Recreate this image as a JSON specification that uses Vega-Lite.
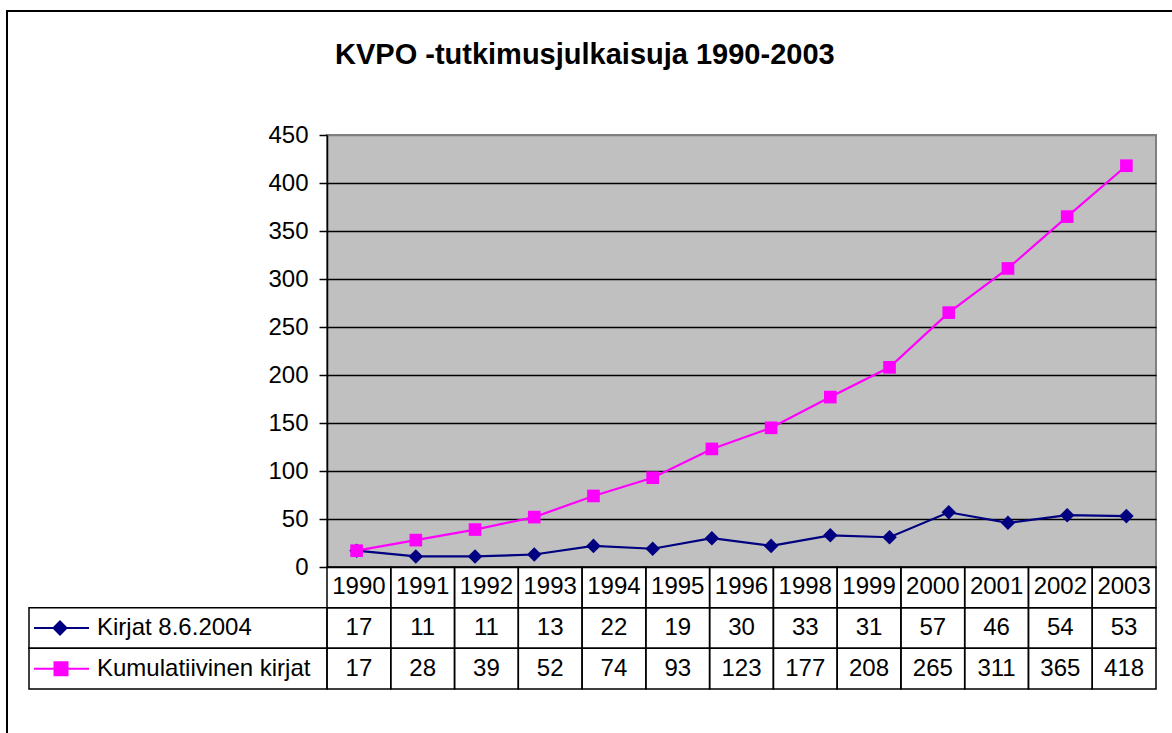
{
  "$schema": "https://vega.github.io/schema/vega-lite/v6.json",
  "autosize": {"type": "none"},
  "width": 829,
  "height": 432,
  "padding": {"left": 327, "top": 135, "right": 16, "bottom": 166},
  "background": "white",
  "title": {
    "text": "KVPO -tutkimusjulkaisuja 1990-2003",
    "anchor": "start",
    "frame": "group",
    "dx": 8,
    "offset": -83,
    "baseline": "alphabetic",
    "font": "Liberation Sans",
    "fontSize": 29,
    "fontWeight": "bold",
    "color": "black"
  },
  "config": {
    "font": "Liberation Sans",
    "view": {"fill": "#C0C0C0", "stroke": "#808080", "strokeWidth": 2}
  },
  "datasets": {
    "plot": [
      {"year": "1990", "series": "Kirjat 8.6.2004", "value": 17},
      {"year": "1991", "series": "Kirjat 8.6.2004", "value": 11},
      {"year": "1992", "series": "Kirjat 8.6.2004", "value": 11},
      {"year": "1993", "series": "Kirjat 8.6.2004", "value": 13},
      {"year": "1994", "series": "Kirjat 8.6.2004", "value": 22},
      {"year": "1995", "series": "Kirjat 8.6.2004", "value": 19},
      {"year": "1996", "series": "Kirjat 8.6.2004", "value": 30},
      {"year": "1997", "series": "Kirjat 8.6.2004", "value": 22},
      {"year": "1998", "series": "Kirjat 8.6.2004", "value": 33},
      {"year": "1999", "series": "Kirjat 8.6.2004", "value": 31},
      {"year": "2000", "series": "Kirjat 8.6.2004", "value": 57},
      {"year": "2001", "series": "Kirjat 8.6.2004", "value": 46},
      {"year": "2002", "series": "Kirjat 8.6.2004", "value": 54},
      {"year": "2003", "series": "Kirjat 8.6.2004", "value": 53},
      {"year": "1990", "series": "Kumulatiivinen kirjat", "value": 17},
      {"year": "1991", "series": "Kumulatiivinen kirjat", "value": 28},
      {"year": "1992", "series": "Kumulatiivinen kirjat", "value": 39},
      {"year": "1993", "series": "Kumulatiivinen kirjat", "value": 52},
      {"year": "1994", "series": "Kumulatiivinen kirjat", "value": 74},
      {"year": "1995", "series": "Kumulatiivinen kirjat", "value": 93},
      {"year": "1996", "series": "Kumulatiivinen kirjat", "value": 123},
      {"year": "1997", "series": "Kumulatiivinen kirjat", "value": 145},
      {"year": "1998", "series": "Kumulatiivinen kirjat", "value": 177},
      {"year": "1999", "series": "Kumulatiivinen kirjat", "value": 208},
      {"year": "2000", "series": "Kumulatiivinen kirjat", "value": 265},
      {"year": "2001", "series": "Kumulatiivinen kirjat", "value": 311},
      {"year": "2002", "series": "Kumulatiivinen kirjat", "value": 365},
      {"year": "2003", "series": "Kumulatiivinen kirjat", "value": 418}
    ],
    "table": [
      {"year": "1990", "series": "Kirjat 8.6.2004", "value": 17},
      {"year": "1991", "series": "Kirjat 8.6.2004", "value": 11},
      {"year": "1992", "series": "Kirjat 8.6.2004", "value": 11},
      {"year": "1993", "series": "Kirjat 8.6.2004", "value": 13},
      {"year": "1994", "series": "Kirjat 8.6.2004", "value": 22},
      {"year": "1995", "series": "Kirjat 8.6.2004", "value": 19},
      {"year": "1996", "series": "Kirjat 8.6.2004", "value": 30},
      {"year": "1998", "series": "Kirjat 8.6.2004", "value": 33},
      {"year": "1999", "series": "Kirjat 8.6.2004", "value": 31},
      {"year": "2000", "series": "Kirjat 8.6.2004", "value": 57},
      {"year": "2001", "series": "Kirjat 8.6.2004", "value": 46},
      {"year": "2002", "series": "Kirjat 8.6.2004", "value": 54},
      {"year": "2003", "series": "Kirjat 8.6.2004", "value": 53},
      {"year": "1990", "series": "Kumulatiivinen kirjat", "value": 17},
      {"year": "1991", "series": "Kumulatiivinen kirjat", "value": 28},
      {"year": "1992", "series": "Kumulatiivinen kirjat", "value": 39},
      {"year": "1993", "series": "Kumulatiivinen kirjat", "value": 52},
      {"year": "1994", "series": "Kumulatiivinen kirjat", "value": 74},
      {"year": "1995", "series": "Kumulatiivinen kirjat", "value": 93},
      {"year": "1996", "series": "Kumulatiivinen kirjat", "value": 123},
      {"year": "1998", "series": "Kumulatiivinen kirjat", "value": 177},
      {"year": "1999", "series": "Kumulatiivinen kirjat", "value": 208},
      {"year": "2000", "series": "Kumulatiivinen kirjat", "value": 265},
      {"year": "2001", "series": "Kumulatiivinen kirjat", "value": 311},
      {"year": "2002", "series": "Kumulatiivinen kirjat", "value": 365},
      {"year": "2003", "series": "Kumulatiivinen kirjat", "value": 418}
    ]
  },
  "layer": [
    {
      "data": {"values": [{"part": "kehys"}]},
      "mark": {"type": "rect", "filled": false, "stroke": "black", "strokeWidth": 2},
      "encoding": {
        "x": {"field": "part", "type": "nominal", "scale": {"domain": ["kehys"], "range": [-320, 900], "paddingInner": 0, "paddingOuter": 0}, "axis": null},
        "y": {"field": "part", "type": "nominal", "scale": {"domain": ["kehys"], "range": [-124, 650], "paddingInner": 0, "paddingOuter": 0}, "axis": null}
      }
    },
    {
      "data": {"name": "plot"},
      "encoding": {
        "x": {
          "field": "year", "type": "ordinal",
          "scale": {"type": "point", "padding": 0.5, "domain": ["1990","1991","1992","1993","1994","1995","1996","1997","1998","1999","2000","2001","2002","2003"]},
          "axis": null
        },
        "y": {
          "field": "value", "type": "quantitative",
          "scale": {"domain": [0, 450], "nice": false},
          "axis": {
            "orient": "left",
            "title": null,
            "values": [0, 50, 100, 150, 200, 250, 300, 350, 400, 450],
            "grid": true,
            "gridColor": {"condition": {"test": "datum.value >= 450", "value": "#808080"}, "value": "black"},
            "gridWidth": 1.5,
            "gridOpacity": 1,
            "domainColor": "black",
            "domainWidth": 1.5,
            "tickColor": "black",
            "tickWidth": 1.5,
            "tickSize": 8,
            "labelPadding": 11,
            "labelFont": "Liberation Sans",
            "labelFontSize": 24,
            "labelColor": "black"
          }
        },
        "color": {
          "field": "series", "type": "nominal",
          "scale": {"domain": ["Kirjat 8.6.2004", "Kumulatiivinen kirjat"], "range": ["#000080", "#FF00FF"]},
          "legend": null
        }
      },
      "layer": [
        {"mark": {"type": "line", "strokeWidth": 2.2}},
        {
          "mark": {"type": "point", "filled": true, "opacity": 1, "size": 160},
          "encoding": {
            "shape": {"field": "series", "type": "nominal", "scale": {"domain": ["Kirjat 8.6.2004", "Kumulatiivinen kirjat"], "range": ["M0,-1.15L1.15,0L0,1.15L-1.15,0Z", "square"]}, "legend": null}
          }
        }
      ]
    },
    {
      "data": {"name": "table"},
      "resolve": {"scale": {"x": "independent"}},
      "encoding": {
        "y": {
          "field": "series", "type": "nominal",
          "scale": {"domain": ["Vuosi", "Kirjat 8.6.2004", "Kumulatiivinen kirjat"], "range": [432, 554], "paddingInner": 0, "paddingOuter": 0},
          "axis": null
        }
      },
      "layer": [
        {
          "encoding": {
            "x": {
              "field": "year", "type": "ordinal",
              "scale": {"domain": ["1990","1991","1992","1993","1994","1995","1996","1998","1999","2000","2001","2002","2003"], "paddingInner": 0, "paddingOuter": 0},
              "axis": null
            }
          },
          "layer": [
            {"mark": {"type": "rect", "filled": false, "stroke": "black", "strokeWidth": 1.5}},
            {
              "mark": {"type": "text", "font": "Liberation Sans", "fontSize": 24, "color": "black", "baseline": "middle"},
              "encoding": {"text": {"field": "value", "type": "quantitative"}}
            },
            {
              "transform": [{"filter": "datum.series === 'Kirjat 8.6.2004'"}],
              "mark": {"type": "rect", "filled": false, "stroke": "black", "strokeWidth": 1.5},
              "encoding": {"y": {"datum": "Vuosi", "type": "nominal"}}
            },
            {
              "transform": [{"filter": "datum.series === 'Kirjat 8.6.2004'"}],
              "mark": {"type": "text", "font": "Liberation Sans", "fontSize": 24, "color": "black", "baseline": "middle"},
              "encoding": {"y": {"datum": "Vuosi", "type": "nominal"}, "text": {"field": "year", "type": "nominal"}}
            }
          ]
        },
        {
          "transform": [{"filter": "datum.year === '1990'"}],
          "encoding": {
            "x": {"datum": "selite", "type": "nominal", "scale": {"domain": ["selite"], "range": [-298, 0], "paddingInner": 0, "paddingOuter": 0}, "axis": null}
          },
          "layer": [
            {"mark": {"type": "rect", "filled": false, "stroke": "black", "strokeWidth": 1.5}},
            {
              "mark": {"type": "text", "font": "Liberation Sans", "fontSize": 24, "color": "black", "align": "left", "baseline": "middle", "dx": 68},
              "encoding": {
                "x": {"datum": "selite", "type": "nominal", "bandPosition": 0},
                "text": {"field": "series", "type": "nominal"}
              }
            },
            {
              "transform": [{"filter": "datum.series === 'Kirjat 8.6.2004'"}],
              "mark": {"type": "point", "filled": true, "opacity": 1, "size": 4, "fill": "#000080", "stroke": "#000080", "strokeWidth": 2, "shape": "M5,0H60M31,-6.5L37.5,0L31,6.5L24.5,0Z"},
              "encoding": {"x": {"datum": "selite", "type": "nominal", "bandPosition": 0}}
            },
            {
              "transform": [{"filter": "datum.series === 'Kumulatiivinen kirjat'"}],
              "mark": {"type": "point", "filled": true, "opacity": 1, "size": 4, "fill": "#FF00FF", "stroke": "#FF00FF", "strokeWidth": 2, "shape": "M5,0H60M25.5,-6.5H38.5V6.5H25.5Z"},
              "encoding": {"x": {"datum": "selite", "type": "nominal", "bandPosition": 0}}
            }
          ]
        }
      ]
    }
  ],
  "resolve": {"scale": {"x": "independent", "y": "independent"}}
}
